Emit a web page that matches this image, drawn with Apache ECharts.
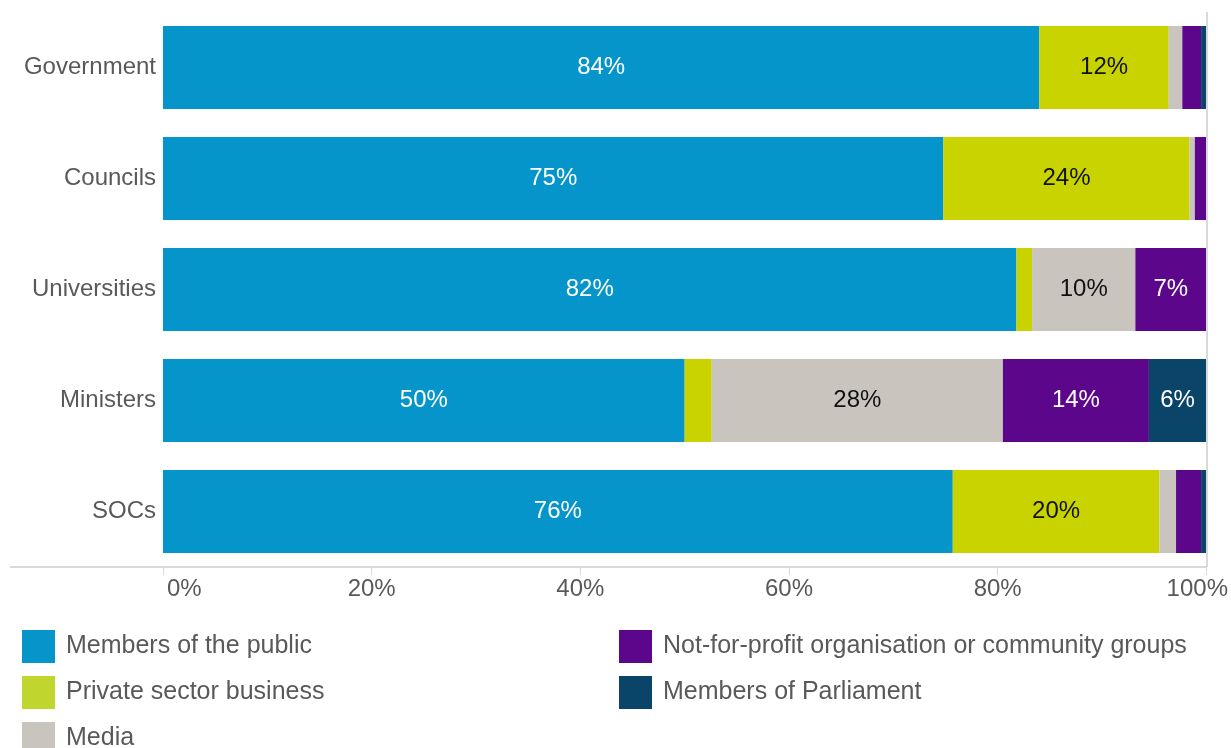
<!DOCTYPE html>
<html>
<head>
<meta charset="utf-8">
<title>Who engages with public bodies</title>
<script src="https://cdn.jsdelivr.net/npm/echarts@6/dist/echarts.min.js"></script>
<style>
  html, body { margin: 0; padding: 0; background: #ffffff; }
  #chart { width: 1231px; height: 748px; }
</style>
</head>
<body>
<div id="chart"></div>
<script>
// Categories (top to bottom) and share of each group, in percent
const categories = ['Government', 'Councils', 'Universities', 'Ministers', 'SOCs'];
const membersOfPublic = [84.0, 74.8, 81.8, 50.0, 75.7];
const privateSector   = [12.4, 23.6, 1.5, 2.6, 19.8];
const media           = [1.3, 0.5, 9.9, 27.9, 1.6];
const notForProfit    = [1.8, 1.1, 6.8, 14.0, 2.4];
const mps             = [0.5, 0.0, 0.0, 5.5, 0.5];
const xTicks = [0, 20, 40, 60, 80, 100];

const FONT = '"Liberation Sans", Arial, Helvetica, sans-serif';
const TEXT = '#595959';
const RULE = '#d9d9d9';

function makeSeries(name, data, color, labelColor) {
  return {
    name: name,
    type: 'bar',
    stack: 'total',
    barWidth: 83,
    data: data,
    itemStyle: { color: color },
    label: {
      show: true,
      position: 'inside',
      color: labelColor,
      fontFamily: FONT,
      fontSize: 24,
      formatter: p => (p.value >= 5 ? Math.round(p.value) + '%' : '')
    },
    emphasis: { disabled: true }
  };
}

const series = [
  makeSeries('Members of the public', membersOfPublic, '#0595CB', '#ffffff'),
  makeSeries('Private sector business', privateSector, '#C8D300', '#111111'),
  makeSeries('Media', media, '#C9C5BE', '#111111'),
  makeSeries('Not-for-profit organisation or community groups', notForProfit, '#5C068C', '#ffffff'),
  makeSeries('Members of Parliament', mps, '#0A4468', '#ffffff')
];
// right-hand border of the plot at 100%
series[4].markLine = {
  silent: true,
  symbol: 'none',
  label: { show: false },
  lineStyle: { color: RULE, type: 'solid', width: 2 },
  data: [{ xAxis: xTicks[xTicks.length - 1] }]
};

// one legend entry per block so the two columns keep their own rows
const legendText = { color: TEXT, fontFamily: FONT, fontSize: 25, padding: [0, 0, 0, 6] };
function legendItem(entry, left, top) {
  return {
    orient: 'vertical',
    left: left,
    top: top,
    padding: 0,
    itemWidth: 33,
    itemHeight: 33,
    icon: 'rect',
    selectedMode: false,
    textStyle: legendText,
    data: [entry]
  };
}

const chart = echarts.init(document.getElementById('chart'), null, { renderer: 'canvas' });
chart.setOption({
  animation: false,
  grid: { left: 163, right: 24, top: 12, bottom: 181, containLabel: false },
  xAxis: {
    type: 'value',
    min: xTicks[0],
    max: xTicks[xTicks.length - 1],
    interval: 20,
    axisLine: { show: true, lineStyle: { color: RULE, width: 2 } },
    axisTick: { show: true, length: 8, lineStyle: { color: RULE, width: 1 } },
    splitLine: { show: false },
    axisLabel: {
      color: TEXT,
      fontFamily: FONT,
      fontSize: 24,
      margin: 10,
      alignMinLabel: 'left',
      alignMaxLabel: 'center',
      formatter: v => v === 0 ? '{a|0%}' : (v === 100 ? '{b|100%}' : v + '%'),
      rich: {
        a: { color: TEXT, fontFamily: FONT, fontSize: 24, padding: [0, 0, 0, 4] },
        b: { color: TEXT, fontFamily: FONT, fontSize: 24, padding: [0, 18, 0, 0] }
      }
    }
  },
  yAxis: {
    type: 'category',
    data: categories,
    inverse: true,
    axisLine: { show: false },
    axisTick: { show: false },
    axisLabel: { color: TEXT, fontFamily: FONT, fontSize: 24, margin: 7 }
  },
  legend: [
    legendItem('Members of the public', 22, 630),
    legendItem({ name: 'Private sector business', itemStyle: { color: '#C0D62F' } }, 22, 676),
    legendItem('Media', 22, 722),
    legendItem('Not-for-profit organisation or community groups', 619, 630),
    legendItem('Members of Parliament', 619, 676)
  ],
  graphic: [
    // axis baseline continues left under the category labels
    { type: 'line', silent: true, shape: { x1: 10, y1: 567, x2: 163, y2: 567 }, style: { stroke: RULE, lineWidth: 2 } }
  ],
  series: series
});
</script>
</body>
</html>
